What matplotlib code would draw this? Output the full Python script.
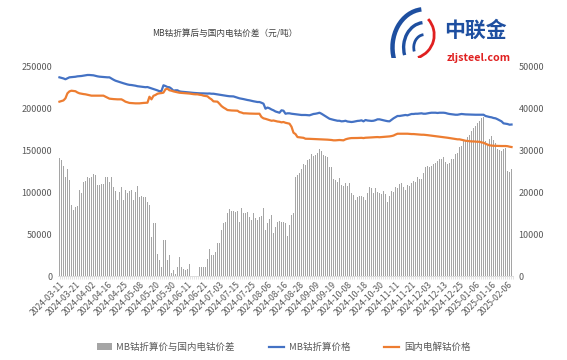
import numpy as np
import matplotlib
matplotlib.use('Agg')
import matplotlib.pyplot as plt
from matplotlib.patches import Arc, Patch
from matplotlib.lines import Line2D

plt.rcParams['font.family'] = ['Noto Sans CJK SC', 'DejaVu Sans']

TITLE = 'MB钴折算后与国内电钴价差（元/吨）'
BAR_LABEL = 'MB钴折算价与国内电钴价差'
MB_LABEL = 'MB钴折算价格'
DOM_LABEL = '国内电解钴价格'

# tick labels, one every 8 trading days
tick_labels = [
    '2024-03-11', '2024-03-21', '2024-04-02', '2024-04-16', '2024-04-25',
    '2024-05-08', '2024-05-20', '2024-05-30', '2024-06-11', '2024-06-21',
    '2024-07-03', '2024-07-15', '2024-07-25', '2024-08-06', '2024-08-16',
    '2024-08-28', '2024-09-09', '2024-09-19', '2024-10-08', '2024-10-18',
    '2024-10-30', '2024-11-11', '2024-11-21', '2024-12-03', '2024-12-13',
    '2024-12-25', '2025-01-06', '2025-01-16', '2025-02-06',
]

# spread (right axis, 元/吨)
spread = [
    28300, 27750, 26300, 23600, 25500, 23000, 17000, 15800, 16600, 16800,
    20600, 19900, 22600, 22800, 23600, 23500, 23800, 24400, 24200, 21800,
    21800, 22000, 22000, 23600, 23600, 22600, 23600, 21400, 20400, 18200,
    20200, 21200, 18300, 20600, 19900, 20400, 20700, 18300, 20200, 21500,
    19000, 19100, 19000, 18800, 17800, 17000, 9400, 12600, 12600, 5400,
    3800, 2200, 8600, 8600, 3800, 5000, 640, 1400, 600, 2200,
    4500, 2200, 1600, 1400, 1600, 2900, 0, 0, 0, 0,
    2100, 2100, 2100, 2200, 4000, 6600, 5000, 5000, 5800, 8000,
    8000, 11000, 12600, 13000, 15000, 16000, 15600, 15600, 15400, 15600,
    13000, 16200, 15100, 15000, 15400, 14200, 13400, 15100, 13800, 13400,
    14200, 14400, 16200, 11000, 12600, 13600, 14600, 10200, 11800, 13000,
    13200, 13000, 13000, 12600, 9600, 12200, 14600, 15000, 23600, 24200,
    24600, 25500, 26800, 26600, 27750, 27900, 29200, 28700, 28900, 29500,
    30300, 30000, 28900, 28700, 28500, 26100, 26000, 23100, 23000, 22600,
    23400, 21800, 21500, 22300, 21500, 22300, 19800, 19400, 18200, 19000,
    19100, 19100, 19000, 18200, 19900, 21400, 21000, 19900, 21000, 20200,
    19900, 19600, 20400, 19600, 17800, 19100, 20400, 20200, 21400, 21000,
    22000, 22300, 21400, 20700, 21800, 21500, 22300, 22800, 22600, 23600,
    23100, 23100, 24700, 26000, 26300, 26000, 26300, 26800, 27100, 27600,
    27900, 28100, 28400, 27300, 26800, 27100, 28000, 28100, 29300, 29500,
    30800, 31100, 32400, 32500, 33300, 33700, 34800, 35300, 35900, 36700,
    37200, 37700, 38000, 32400, 31700, 32700, 33500, 32500, 31900, 30300,
    30100, 30000, 30300, 30600, 25200, 24900, 25700,
]

# MB cobalt converted price (left axis)
mb_price = [
    237600, 237000, 236300, 235300, 236500, 237600, 237800, 238000, 238300, 238800,
    239000, 239200, 239600, 240000, 240400, 240400, 240200, 240000, 239400, 238800,
    238400, 238200, 238000, 237800, 237600, 237600, 236200, 234800, 233600, 232800,
    232000, 231200, 230500, 229800, 229100, 228600, 228400, 228000, 227600, 227000,
    226700, 226400, 226200, 225800, 226000, 225200, 224500, 223600, 222800, 222000,
    221000, 221300, 228100, 227200, 226000, 225700, 224000, 221600, 222100, 222100,
    220800, 220400, 220200, 220000, 219800, 219500, 219200, 219000, 218800, 218600,
    218500, 218500, 218400, 218300, 218200, 218300, 218000, 218000, 217600, 217200,
    216800, 216500, 216000, 215600, 215300, 215000, 214900, 214800, 214000, 213300,
    212500, 212100, 211600, 211000, 210500, 210100, 209500, 209000, 208500, 208100,
    208100, 207200, 206100, 200100, 201500, 200600, 199200, 198200, 196800, 196100,
    195300, 198200, 197700, 194100, 194600, 194600, 194100, 193800, 193500, 193200,
    192900, 192600, 192600, 192600, 192400, 192200, 193000, 193800, 194100, 194600,
    195300, 194100, 192600, 191000, 189600, 188100, 187400, 186800, 186200, 185700,
    185700, 185000, 185200, 185700, 184800, 184500, 184200, 184500, 185000, 185500,
    185700, 186200, 185000, 186600, 186000, 185700, 185500, 185700, 186400, 187400,
    187400, 186800, 186200, 185700, 185200, 185000, 186800, 188600, 190000, 191400,
    191400, 191800, 192200, 192600, 192200, 193000, 193800, 193800, 194100, 194100,
    194400, 194600, 194100, 194100, 194600, 195000, 195300, 195300, 195300, 195000,
    195300, 195300, 195300, 195000, 194300, 193800, 193500, 193200, 192900, 192900,
    193300, 193800, 193500, 193300, 193200, 193000, 192900, 192900, 192900, 192900,
    193000, 192900, 192900, 191400, 190800, 190200, 189800, 189000, 188600, 187500,
    186200, 185000, 182600, 182200, 181800, 181000, 181200,
]

# domestic electrolytic cobalt price (left axis)
dom_price = [
    208500, 209200, 210000, 212500, 218500, 220800, 221600, 221300, 221000, 219500,
    218500, 218000, 217600, 217300, 216800, 216200, 215700, 215700, 215700, 215700,
    215700, 215700, 215700, 214500, 213300, 212100, 211800, 211600, 211400, 211300,
    211300, 211300, 210000, 208500, 207800, 207000, 206800, 206500, 206500, 206500,
    206500, 206800, 207000, 207200, 207300, 214400, 211300, 215500, 216500, 218000,
    218500, 218800, 219300, 223300, 224000, 222100, 221600, 220800, 220200, 219700,
    219200, 219000, 218800, 218600, 218500, 218200, 217800, 217500, 217300, 217300,
    216800, 216500, 215700, 215300, 214900, 212800, 211300, 208900, 208700, 208500,
    206000, 203300, 201500, 200100, 198500, 198200, 198000, 197900, 197800, 197700,
    196100, 195500, 194600, 194600, 194400, 194300, 194200, 194100, 194100, 194100,
    194100, 190200, 188600, 188000, 187200, 186400, 185700, 186000, 185400, 184800,
    184500, 183800, 184200, 183300, 182800, 182200, 178600, 171400, 169800, 166200,
    165900, 165600, 165300, 164200, 164200, 164100, 164000, 164000, 163800, 163600,
    163500, 163500, 163500, 163300, 163100, 162900, 162700, 162300, 162300, 162500,
    162700, 162500, 162300, 163500, 164200, 164700, 165000, 165000, 165000, 165100,
    165200, 165300, 165000, 165400, 165500, 165700, 165800, 166000, 166100, 166200,
    166000, 166200, 166300, 166500, 166800, 167000, 167400, 168000, 169200, 170200,
    170200, 170200, 170200, 170200, 170200, 170000, 169800, 169800, 169600, 169400,
    169200, 169000, 169000, 168800, 168500, 168200, 167900, 167600, 167400, 167000,
    166800, 166500, 166200, 165800, 165400, 165000, 164700, 164200, 163800, 163500,
    163500, 163000, 162400, 161800, 161500, 161100, 161000, 161000, 160800, 160600,
    160600, 159800, 159400, 158200, 157200, 156300, 156000, 155800, 155700, 155600,
    155500, 155500, 155500, 155500, 155300, 154700, 154300,
]

BLUE = '#4472C4'
ORANGE = '#ED7D31'
BAR_C = '#A5A5A5'
TXT = '#595959'

x = np.arange(len(spread))

fig = plt.figure(figsize=(5.67, 3.6), dpi=100)
ax = fig.add_axes([0.102, 0.233, 0.803, 0.581])
ax2 = ax.twinx()

# bars on the right axis, lines on the left axis (lines drawn on top)
ax2.bar(x, spread, width=0.55, color=BAR_C, edgecolor='none')
ax.plot(x, mb_price, color=BLUE, linewidth=1.6)
ax.plot(x, dom_price, color=ORANGE, linewidth=1.6)
ax.set_zorder(ax2.get_zorder() + 1)
ax.patch.set_visible(False)

ax.set_ylim(0, 250000)
ax.set_yticks(np.arange(0, 250001, 50000))
ax2.set_ylim(0, 50000)
ax2.set_yticks(np.arange(0, 50001, 10000))
ax.set_xlim(-0.8, len(x) - 0.2)

tick_pos = np.arange(len(tick_labels)) * 8
ax.set_xticks(tick_pos)
ax.set_xticklabels(tick_labels, rotation=45, ha='right', rotation_mode='anchor',
                   fontsize=6.2, color=TXT)
ax.set_xticks(np.arange(len(x)) + 0.5, minor=True)
ax.tick_params(axis='x', which='major', length=0, pad=3)
ax.tick_params(axis='x', which='minor', length=2.5, color='#D9D9D9', width=0.5)

for a in (ax, ax2):
    for s in ('top', 'left', 'right'):
        a.spines[s].set_visible(False)
    a.tick_params(axis='y', length=0, labelsize=6.5, labelcolor=TXT, pad=4)
ax.spines['bottom'].set_color('#D9D9D9')
ax.spines['bottom'].set_linewidth(0.6)
ax2.spines['bottom'].set_visible(False)

fig.text(0.397, 0.905, TITLE, ha='center', va='center', fontsize=6.2, color='#404040')

# legend
handles = [Patch(facecolor=BAR_C, edgecolor='none'),
           Line2D([0], [0], color=BLUE, linewidth=1.6),
           Line2D([0], [0], color=ORANGE, linewidth=1.6)]
fig.legend(handles, [BAR_LABEL, MB_LABEL, DOM_LABEL], loc='center',
           bbox_to_anchor=(0.5, 0.036), ncol=3, frameon=False, fontsize=6.8,
           labelcolor=TXT, handlelength=1.6, handleheight=0.7, columnspacing=3.6,
           handletextpad=0.5)

# logo (top right)
fig.text(0.783, 0.915, '中联金', fontsize=15, fontweight='bold', color='#1E4FA0',
         ha='left', va='center')
fig.text(0.788, 0.84, 'zljsteel.com', fontsize=7.7, fontweight='bold',
         color='#E02020', ha='left', va='center')
lax = fig.add_axes([0.685, 0.84, 0.085, 0.14])
lax.set_xlim(0, 1)
lax.set_ylim(0, 1)
lax.axis('off')
for r, lw in [(0.95, 3.2), (0.62, 2.4), (0.32, 2.0)]:
    lax.add_patch(Arc((0.75, 0.2), r * 1.4, r * 1.6, theta1=95, theta2=200,
                      color='#1E4FA0', linewidth=lw))
lax.add_patch(Arc((0.45, 0.45), 1.0, 0.95, theta1=-70, theta2=40,
                  color='#E02020', linewidth=2.0))

fig.savefig('out.png', dpi=100)
